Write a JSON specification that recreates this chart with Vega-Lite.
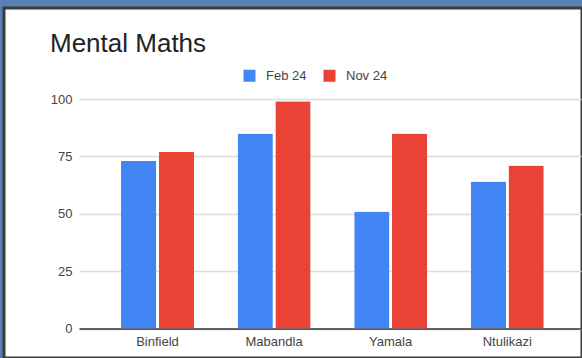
{
  "$schema": "https://vega.github.io/schema/vega-lite/v6.json",
  "width": 578,
  "height": 350,
  "autosize": {"type": "none"},
  "padding": {"left": 4, "top": 8, "right": 0, "bottom": 0},
  "background": "#5a7fb3",
  "config": {
    "view": {"fill": "white", "stroke": "#3d3d3d", "strokeWidth": 3},
    "font": "Liberation Sans"
  },
  "title": {
    "text": "Mental Maths",
    "anchor": "start",
    "frame": "group",
    "dx": 46,
    "offset": -70,
    "baseline": "alphabetic",
    "fontSize": 26,
    "fontWeight": "normal",
    "color": "#222222",
    "font": "Liberation Sans"
  },
  "data": {
    "values": [
      {"school": "Binfield", "period": "Feb 24", "score": 73},
      {"school": "Binfield", "period": "Nov 24", "score": 77},
      {"school": "Mabandla", "period": "Feb 24", "score": 85},
      {"school": "Mabandla", "period": "Nov 24", "score": 99},
      {"school": "Yamala", "period": "Feb 24", "score": 51},
      {"school": "Yamala", "period": "Nov 24", "score": 85},
      {"school": "Ntulikazi", "period": "Feb 24", "score": 64},
      {"school": "Ntulikazi", "period": "Nov 24", "score": 71}
    ]
  },
  "mark": {"type": "bar", "cornerRadiusTopLeft": 1, "cornerRadiusTopRight": 1},
  "encoding": {
    "x": {
      "field": "school",
      "type": "nominal",
      "sort": null,
      "scale": {"range": [75, 577], "paddingInner": 0.374, "paddingOuter": 0.34, "align": 0.53},
      "axis": {
        "title": null,
        "orient": "bottom",
        "offset": -29.5,
        "labelAngle": 0,
        "ticks": false,
        "grid": false,
        "domainColor": "#333333",
        "domainWidth": 1.5,
        "labelPadding": 7,
        "labelFontSize": 13,
        "labelColor": "#444444"
      }
    },
    "xOffset": {
      "field": "period",
      "type": "nominal",
      "sort": ["Feb 24", "Nov 24"],
      "scale": {"paddingInner": 0.065, "paddingOuter": 0}
    },
    "y": {
      "field": "score",
      "type": "quantitative",
      "scale": {"domain": [0, 100], "range": [320.5, 91], "nice": false},
      "axis": {
        "title": null,
        "values": [0, 25, 50, 75, 100],
        "offset": -75,
        "domain": false,
        "ticks": false,
        "labelPadding": 7,
        "labelFontSize": 13,
        "labelColor": "#444444",
        "gridColor": "#dcdcdc",
        "gridWidth": 1.5
      }
    },
    "color": {
      "field": "period",
      "type": "nominal",
      "sort": ["Feb 24", "Nov 24"],
      "scale": {"range": ["#4285F4", "#EA4335"]},
      "legend": {
        "title": null,
        "orient": "none",
        "legendX": 239,
        "legendY": 61,
        "direction": "horizontal",
        "symbolType": "square",
        "symbolSize": 144,
        "symbolStrokeWidth": 0,
        "symbolOpacity": 1,
        "labelFontSize": 13,
        "labelColor": "#444444",
        "labelOffset": 10,
        "columnPadding": 16
      }
    }
  }
}
